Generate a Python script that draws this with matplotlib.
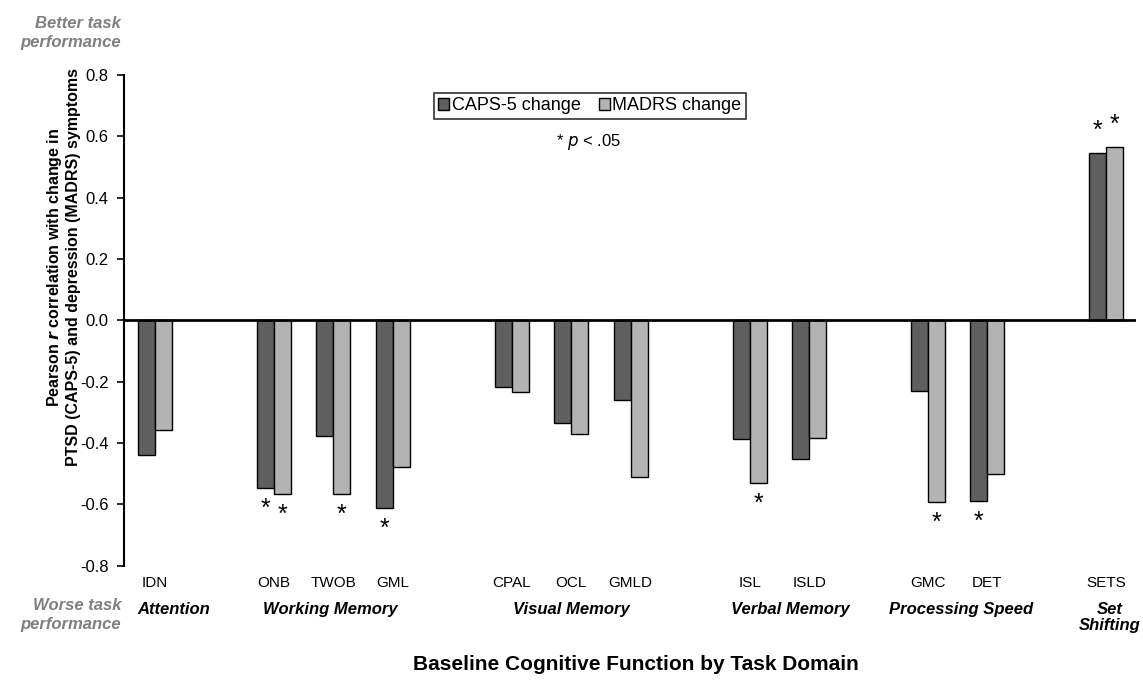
import numpy as np
import matplotlib
matplotlib.use("Agg")
import matplotlib.pyplot as plt
from matplotlib.transforms import blended_transform_factory

plt.rcParams['font.family'] = ['Liberation Sans', 'DejaVu Sans']

# tasks, with position index (blank slots between domains)
tasks = ["IDN", "ONB", "TWOB", "GML", "CPAL", "OCL", "GMLD",
         "ISL", "ISLD", "GMC", "DET", "SETS"]
slots = [0, 2, 3, 4, 6, 7, 8, 10, 11, 13, 14, 16]

caps = [-0.44, -0.546, -0.378, -0.611, -0.217, -0.335, -0.258,
        -0.388, -0.451, -0.230, -0.588, 0.547]
madrs = [-0.358, -0.565, -0.567, -0.479, -0.235, -0.370, -0.510,
         -0.529, -0.382, -0.592, -0.500, 0.566]

caps_sig = [0, 1, 0, 1, 0, 0, 0, 0, 0, 0, 1, 1]
madrs_sig = [0, 1, 1, 0, 0, 0, 0, 1, 0, 1, 0, 1]

domains = ["Attention", "Working Memory", "Visual Memory", "Verbal Memory",
           "Processing Speed", "Set\nShifting"]
domain_x = [0.31, 2.95, 7.0, 10.68, 13.55, 16.06]

yticks = [-0.8, -0.6, -0.4, -0.2, 0.0, 0.2, 0.4, 0.6, 0.8]

dark = "#5f5f5f"
light = "#b3b3b3"
w = 0.286

fig = plt.figure(figsize=(11.43, 6.85), dpi=100)
ax = fig.add_axes([0.1085, 0.174, 0.994 - 0.1085, 0.8905 - 0.174])

x = np.array(slots, dtype=float)
ax.bar(x - w / 2, caps, w, color=dark, edgecolor="black", linewidth=1, label="CAPS-5 change")
ax.bar(x + w / 2, madrs, w, color=light, edgecolor="black", linewidth=1, label="MADRS change")

# significance stars
for xs, vals, sig in [(x - w / 2, caps, caps_sig), (x + w / 2, madrs, madrs_sig)]:
    for xi, v, s in zip(xs, vals, sig):
        if s:
            off = -15 if v < 0 else 16
            ax.annotate("*", xy=(xi, v), xytext=(0, off), textcoords="offset points",
                        ha="center", va="center", fontsize=18)

ax.axhline(0, color="black", linewidth=2, zorder=3)
ax.set_xlim(-0.52, 16.5)
ax.set_ylim(-0.8, 0.8)
ax.set_yticks(yticks)
ax.set_yticklabels(["%.1f" % t for t in yticks], fontsize=12)
ax.tick_params(axis="y", direction="out", length=5, width=1.2, pad=6)
ax.set_xticks([])
for side in ["top", "right", "bottom"]:
    ax.spines[side].set_visible(False)
ax.spines["left"].set_linewidth(1.5)

trans = blended_transform_factory(ax.transData, ax.transAxes)
for t, s in zip(tasks, slots):
    ax.text(s, -0.035, t, transform=trans, ha="center", va="center", fontsize=11)
for d, dx in zip(domains, domain_x):
    ax.text(dx, -0.074, d, transform=trans, ha="center", va="top", fontsize=12,
            fontweight="bold", fontstyle="italic", linespacing=1.1)

leg = ax.legend(loc="center", bbox_to_anchor=(590 / 1143, 1 - 106 / 685), bbox_transform=fig.transFigure,
                ncol=2, fontsize=13, frameon=True, fancybox=False, edgecolor="black",
                handlelength=0.6, handleheight=0.6, handletextpad=0.15, columnspacing=1.0,
                borderpad=0.25, borderaxespad=0)
leg.get_frame().set_linewidth(1.2)

fig.text(588 / 1143, 1 - 142 / 685, r"* $\it{p}$ < .05", ha="center", va="center", fontsize=12)

grey = "#7f7f7f"
fig.text(0.106, 0.952, "Better task\nperformance", ha="right", va="center", color=grey,
         fontsize=12, fontweight="bold", fontstyle="italic", linespacing=1.3)
fig.text(0.106, 0.102, "Worse task\nperformance", ha="right", va="center", color=grey,
         fontsize=12, fontweight="bold", fontstyle="italic", linespacing=1.3)

fig.text(0.055, 0.61, "Pearson $\\bfit{r}$ correlation with change in\nPTSD (CAPS-5) and depression (MADRS) symptoms",
         rotation=90, ha="center", va="center", fontsize=11.5, fontweight="bold", linespacing=1.15)

fig.text(0.556, 0.03, "Baseline Cognitive Function by Task Domain", ha="center", va="center",
         fontsize=15, fontweight="bold")

fig.savefig("out.png", dpi=100)
